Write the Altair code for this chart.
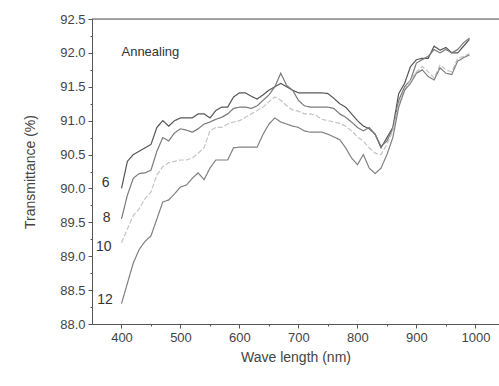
import altair as alt
import pandas as pd

wavelength = list(range(400, 1000, 10))

s6 = [90.0, 90.4, 90.5, 90.55, 90.6, 90.65, 90.9, 91.0, 90.92, 91.0,
      91.04, 91.04, 91.04, 91.1, 91.1, 91.04, 91.15, 91.2, 91.2, 91.35,
      91.41, 91.41, 91.36, 91.32, 91.38, 91.45, 91.5, 91.55, 91.5, 91.45,
      91.41, 91.41, 91.41, 91.41, 91.41, 91.4, 91.33, 91.25, 91.2, 91.1,
      91.0, 90.92, 90.88, 90.8, 90.6, 90.75, 90.9, 91.4, 91.55, 91.8,
      91.9, 91.92, 91.92, 92.1, 92.04, 92.08, 92.0, 92.0, 92.1, 92.2]
s8 = [89.55, 89.9, 90.15, 90.22, 90.23, 90.27, 90.55, 90.75, 90.7, 90.82,
      90.88, 90.86, 90.83, 90.88, 90.95, 90.98, 91.02, 91.05, 91.1, 91.18,
      91.2, 91.2, 91.18, 91.22, 91.3, 91.38, 91.5, 91.7, 91.52, 91.45,
      91.3, 91.22, 91.2, 91.2, 91.2, 91.2, 91.18, 91.1, 91.05, 90.98,
      90.9, 90.85, 90.9, 90.8, 90.62, 90.7, 90.88, 91.3, 91.5, 91.6,
      91.85, 91.9, 91.95, 92.05, 92.0, 92.05, 92.0, 92.05, 92.15, 92.22]
s10 = [89.2, 89.4, 89.6, 89.7, 89.85, 89.95, 90.2, 90.32, 90.38, 90.4,
       90.42, 90.42, 90.45, 90.52, 90.6, 90.85, 90.9, 90.9, 90.95, 90.98,
       91.0, 91.05, 91.1, 91.15, 91.2, 91.28, 91.35, 91.3, 91.22, 91.16,
       91.14, 91.1, 91.1, 91.08, 91.02, 91.0, 90.98, 90.96, 90.92, 90.85,
       90.76, 90.7, 90.6, 90.52, 90.5, 90.65, 90.85, 91.25, 91.45, 91.6,
       91.72, 91.8, 91.72, 91.63, 91.82, 91.75, 91.72, 91.92, 91.95, 91.99]
s12 = [88.3, 88.6, 88.9, 89.1, 89.22, 89.3, 89.55, 89.8, 89.83, 89.92,
       90.02, 90.05, 90.15, 90.23, 90.13, 90.3, 90.42, 90.42, 90.42, 90.6,
       90.61, 90.61, 90.61, 90.61, 90.8, 90.95, 91.04, 90.98, 90.95, 90.92,
       90.9, 90.85, 90.83, 90.83, 90.83, 90.8, 90.76, 90.72, 90.6, 90.45,
       90.35, 90.5, 90.3, 90.22, 90.3, 90.5, 90.75, 91.2, 91.45, 91.55,
       91.7, 91.75, 91.65, 91.6, 91.78, 91.7, 91.68, 91.88, 91.93, 91.97]

series_names = ["6", "8", "10", "12"]
series_values = [s6, s8, s10, s12]
series_colors = ["#555555", "#7a7a7a", "#c4c4c4", "#808080"]

label_x = [373, 375, 370, 372]
label_y = [90.08, 89.56, 89.14, 88.36]

x_ticks = [400, 500, 600, 700, 800, 900, 1000]
x_minor = [450, 550, 650, 750, 850, 950]
y_ticks = [88.0, 88.5, 89.0, 89.5, 90.0, 90.5, 91.0, 91.5, 92.0, 92.5]
y_minor = [88.25, 88.75, 89.25, 89.75, 90.25, 90.75, 91.25, 91.75, 92.25]

rows = []
for name, vals in zip(series_names, series_values):
    for w, v in zip(wavelength, vals):
        rows.append({"wl": w, "T": v, "series": name})
df = pd.DataFrame(rows)

labels_df = pd.DataFrame({"wl": label_x, "T": label_y, "label": series_names})
note_df = pd.DataFrame({"wl": [400], "T": [92.02], "text": ["Annealing"]})
top_df = pd.DataFrame({"T": [92.5]})

FONT = "Liberation Sans"
TXT = "#444444"

xscale = alt.Scale(domain=[350, 1040], nice=False, zero=False)
yscale = alt.Scale(domain=[88.0, 92.5], nice=False, zero=False)

xaxis = alt.Axis(values=x_ticks, format="d", title="Wave length (nm)", grid=False,
                 tickSize=4, labelFontSize=13, titleFontSize=14,
                 labelFont=FONT, titleFont=FONT, labelColor=TXT, titleColor=TXT,
                 titleFontWeight="normal", domainColor="#555", tickColor="#555",
                 labelPadding=3, titlePadding=6, orient="bottom")
yaxis = alt.Axis(values=y_ticks, format=".1f", title="Transmittance (%)", grid=False,
                 tickSize=4, labelFontSize=13, titleFontSize=14,
                 labelFont=FONT, titleFont=FONT, labelColor=TXT, titleColor=TXT,
                 titleFontWeight="normal", domainColor="#555", tickColor="#555",
                 labelPadding=3, titlePadding=22, orient="left")

lines = alt.Chart(df).mark_line(strokeWidth=1.2).encode(
    x=alt.X("wl:Q", scale=xscale, axis=xaxis),
    y=alt.Y("T:Q", scale=yscale, axis=yaxis),
    color=alt.Color("series:N", scale=alt.Scale(domain=series_names, range=series_colors), legend=None),
    strokeDash=alt.StrokeDash("series:N", scale=alt.Scale(domain=series_names,
                              range=[[1, 0], [1, 0], [5, 2], [1, 0]]), legend=None),
    detail="series:N",
)

minor = alt.Chart(df).mark_point(opacity=0).encode(
    x=alt.X("wl:Q", scale=xscale, axis=alt.Axis(values=x_minor, labels=False, title=None,
            tickSize=2, domain=False, grid=False, tickColor="#555", orient="bottom")),
    y=alt.Y("T:Q", scale=yscale, axis=alt.Axis(values=y_minor, labels=False, title=None,
            tickSize=2, domain=False, grid=False, tickColor="#555", orient="left")),
)

labels = alt.Chart(labels_df).mark_text(fontSize=14, font=FONT, color="#333333").encode(
    x=alt.X("wl:Q", scale=xscale, axis=None),
    y=alt.Y("T:Q", scale=yscale, axis=None),
    text="label:N",
)

note = alt.Chart(note_df).mark_text(fontSize=13, font=FONT, color="#333333", align="left").encode(
    x=alt.X("wl:Q", scale=xscale, axis=None),
    y=alt.Y("T:Q", scale=yscale, axis=None),
    text="text:N",
)

top = alt.Chart(top_df).mark_rule(color="#555555", strokeWidth=1).encode(
    y=alt.Y("T:Q", scale=yscale, axis=None),
)

chart = alt.layer(lines, minor, labels, note, top).resolve_axis(
    x="independent", y="independent"
).properties(
    width=407, height=305,
    autosize=alt.AutoSizeParams(type="none"),
    padding={"left": 92, "top": 19, "right": 0, "bottom": 62},
).configure_view(stroke=None).configure(background="white")

chart.save("out.html", embed_options={"renderer": "svg", "actions": False})
